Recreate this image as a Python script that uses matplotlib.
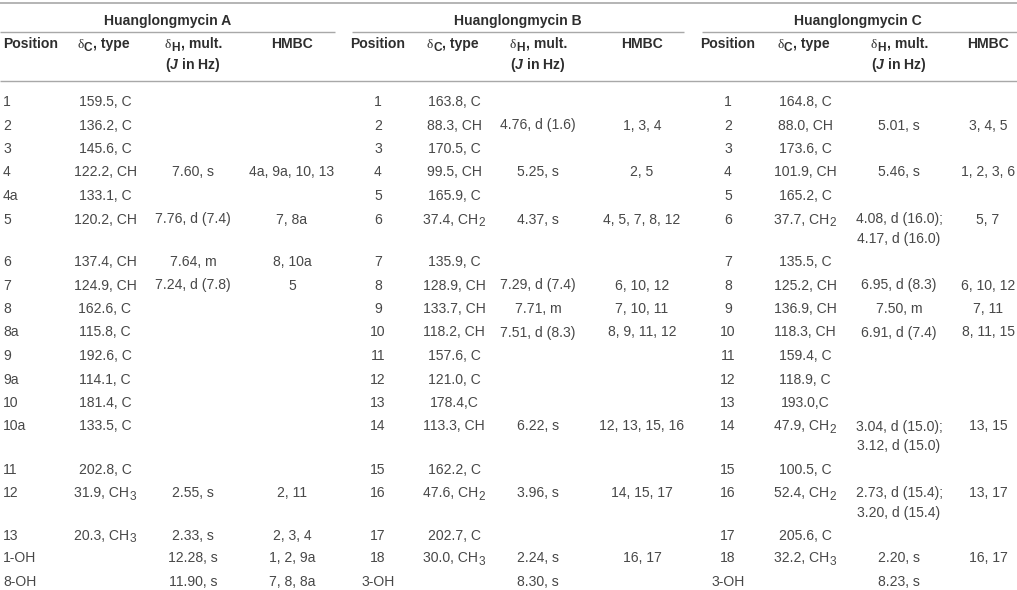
#!/usr/bin/env python3
"""NMR data table for huanglongmycins A-C, drawn as text on a pixel-sized axes."""
import matplotlib
matplotlib.use("Agg")
import matplotlib.pyplot as plt

plt.rcParams["font.family"] = ["Liberation Sans", "DejaVu Sans"]
plt.rcParams["mathtext.fontset"] = "custom"
plt.rcParams["mathtext.rm"] = "Liberation Sans"
plt.rcParams["mathtext.it"] = "Liberation Sans:italic"
plt.rcParams["mathtext.bf"] = "Liberation Sans:bold"
plt.rcParams["mathtext.bfit"] = "Liberation Sans:italic:bold"
plt.rcParams["mathtext.default"] = "regular"

# "_" marks the one subscript character in a cell
CH2 = "CH_2"
CH3 = "CH_3"

# Huanglongmycin A
a_pos = ["1", "2", "3", "4", "4a", "5", "6", "7", "8", "8a", "9", "9a", "10", "10a",
         "11", "12", "13", "1-OH", "8-OH"]
a_dc = ["159.5, C", "136.2, C", "145.6, C", "122.2, CH", "133.1, C", "120.2, CH", "137.4, CH",
        "124.9, CH", "162.6, C", "115.8, C", "192.6, C", "114.1, C", "181.4, C", "133.5, C",
        "202.8, C", "31.9, " + CH3, "20.3, " + CH3, "", ""]
a_dh = ["", "", "", "7.60, s", "", "7.76, d (7.4)", "7.64, m", "7.24, d (7.8)", "", "", "", "",
        "", "", "", "2.55, s", "2.33, s", "12.28, s", "11.90, s"]
a_hmbc = ["", "", "", "4a, 9a, 10, 13", "", "7, 8a", "8, 10a", "5", "", "", "", "", "", "", "",
          "2, 11", "2, 3, 4", "1, 2, 9a", "7, 8, 8a"]

# Huanglongmycin B
b_pos = ["1", "2", "3", "4", "5", "6", "7", "8", "9", "10", "11", "12", "13", "14", "15", "16",
         "17", "18", "3-OH"]
b_dc = ["163.8, C", "88.3, CH", "170.5, C", "99.5, CH", "165.9, C", "37.4, " + CH2, "135.9, C",
        "128.9, CH", "133.7, CH", "118.2, CH", "157.6, C", "121.0, C", "178.4,C", "113.3, CH",
        "162.2, C", "47.6, " + CH2, "202.7, C", "30.0, " + CH3, ""]
b_dh = ["", "4.76, d (1.6)", "", "5.25, s", "", "4.37, s", "", "7.29, d (7.4)", "7.71, m",
        "7.51, d (8.3)", "", "", "", "6.22, s", "", "3.96, s", "", "2.24, s", "8.30, s"]
b_hmbc = ["", "1, 3, 4", "", "2, 5", "", "4, 5, 7, 8, 12", "", "6, 10, 12", "7, 10, 11",
          "8, 9, 11, 12", "", "", "", "12, 13, 15, 16", "", "14, 15, 17", "", "16, 17", ""]

# Huanglongmycin C
c_pos = list(b_pos)
c_dc = ["164.8, C", "88.0, CH", "173.6, C", "101.9, CH", "165.2, C", "37.7, " + CH2, "135.5, C",
        "125.2, CH", "136.9, CH", "118.3, CH", "159.4, C", "118.9, C", "193.0,C", "47.9, " + CH2,
        "100.5, C", "52.4, " + CH2, "205.6, C", "32.2, " + CH3, ""]
c_dh = ["", "5.01, s", "", "5.46, s", "", "4.08, d (16.0);\n4.17, d (16.0)", "", "6.95, d (8.3)",
        "7.50, m", "6.91, d (7.4)", "", "", "", "3.04, d (15.0);\n3.12, d (15.0)", "",
        "2.73, d (15.4);\n3.20, d (15.4)", "", "2.20, s", "8.23, s"]
c_hmbc = ["", "3, 4, 5", "", "1, 2, 3, 6", "", "5, 7", "", "6, 10, 12", "7, 11", "8, 11, 15", "",
          "", "", "13, 15", "", "13, 17", "", "16, 17", ""]

titles = ["Huanglongmycin A", "Huanglongmycin B", "Huanglongmycin C"]

# layout, in reference pixels (y values are text baselines)
ROW_Y = [106, 129.5, 153, 176.5, 200, 223.5, 266, 289.5, 313, 336.5, 360, 383.5, 407, 430.5,
         473.5, 497, 539.5, 562.5, 586]
LINE_GAP = 19.5
TXT = "#484848"
HEAD = "#2e2e2e"
RULE = "#a8a8a8"
FS = 10.1
SUB_FS = 8.6
SUB_DROP = 2.6

fig = plt.figure(figsize=(10.17, 5.90), dpi=100, facecolor="white")
ax = fig.add_axes([0, 0, 1, 1])
ax.set_xlim(0, 1017)
ax.set_ylim(590, 0)
ax.axis("off")
renderer = fig.canvas.get_renderer()


def put(x, y, s, ha="center", color=TXT, weight="normal"):
    return ax.text(x, y, s, ha=ha, va="baseline", fontsize=FS, color=color, weight=weight)


def put_run(x, y, pieces):
    # centred run of text pieces: (string, size, drop, kwargs), one after the other
    arts = [ax.text(0, y + drop, s, ha="left", va="baseline", fontsize=size, **kw)
            for s, size, drop, kw in pieces]
    widths = [a.get_window_extent(renderer).width for a in arts]
    left = x - sum(widths) / 2
    for art, w in zip(arts, widths):
        art.set_x(left)
        left += w + 0.5


def put_cell(x, y, s, ha="center"):
    if "_" in s:
        head, sub = s.split("_")
        kw = {"color": TXT}
        put_run(x, y, [(head, FS, 0, kw), (sub, SUB_FS, SUB_DROP, kw)])
    else:
        put(x, y, s, ha=ha)


def put_delta_head(x, y, nucleus, rest):
    kw = {"color": HEAD, "weight": "bold"}
    put_run(x, y, [("δ", 9.6, 0, {"color": HEAD, "family": "Liberation Serif"}),
                   (nucleus, SUB_FS, SUB_DROP, kw), (rest, FS, 0, kw)])


def draw_block(title, title_x, rule, cols, pos_ha, rows):
    ax.plot(rule, [32, 32], color=RULE, lw=1.0, solid_capstyle="butt")
    put(title_x, 25, title, color=HEAD, weight="bold")
    put(cols[0], 48, "Position", ha=pos_ha, color=HEAD, weight="bold")
    put_delta_head(cols[1] - 2, 48, "C", ", type")
    put_delta_head(cols[2], 48, "H", ", mult.")
    put(cols[2], 69, r"($\mathbfit{J}$ in Hz)", color=HEAD, weight="bold")
    put(cols[3], 48, "HMBC", color=HEAD, weight="bold")
    for col, (x, values) in enumerate(zip(cols, rows)):
        for y, val in zip(ROW_Y, values):
            for i, line in enumerate(val.split("\n")):
                if line:
                    put_cell(x, y + i * LINE_GAP, line, ha=pos_ha if col == 0 else "center")


ax.plot([0, 1017], [3, 3], color=RULE, lw=1.2, solid_capstyle="butt")
ax.plot([0, 1017], [81, 81], color=RULE, lw=1.0, solid_capstyle="butt")

draw_block(titles[0], 168, [0, 335], [3, 105, 193, 292], "left",
           [a_pos, a_dc, a_dh, a_hmbc])
draw_block(titles[1], 518, [352, 684], [378, 454, 538, 642], "center",
           [b_pos, b_dc, b_dh, b_hmbc])
draw_block(titles[2], 858, [702, 1017], [728, 805, 899, 988], "center",
           [c_pos, c_dc, c_dh, c_hmbc])

fig.savefig("out.png", dpi=100)
